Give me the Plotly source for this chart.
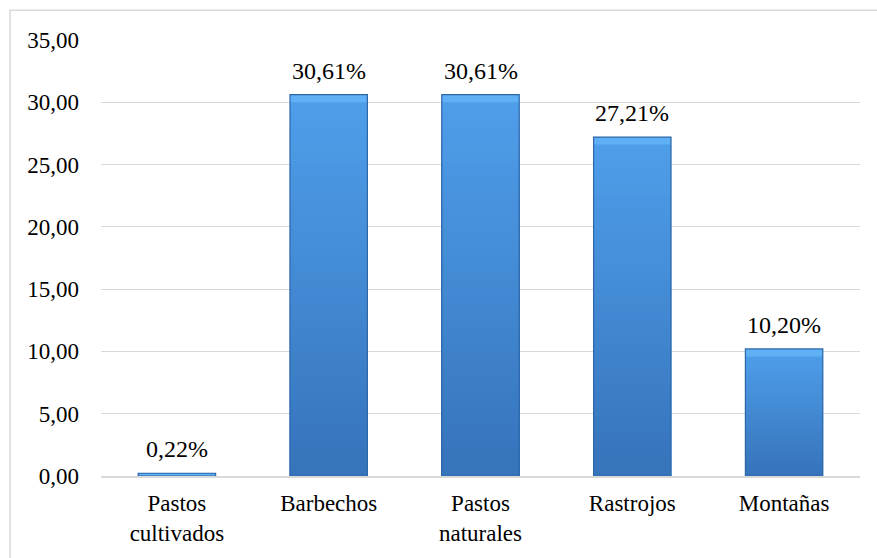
import plotly.graph_objects as go

# Land-use shares
categories = ["Pastos<br>cultivados", "Barbechos", "Pastos<br>naturales", "Rastrojos", "Montañas"]
values = [0.22, 30.61, 30.61, 27.21, 10.20]
y_ticks = [0, 5, 10, 15, 20, 25, 30, 35]
y_tick_labels = ["0,00", "5,00", "10,00", "15,00", "20,00", "25,00", "30,00", "35,00"]

FONT = "'Times New Roman', 'Liberation Serif', serif"
W, H = 877, 558
ML, MR, MT, MB = 101, 17, 40, 80
BEVEL = 0.6  # height of the highlighted top edge, in axis units


def fmt_pct(v):
    return f"{v:.2f}".replace(".", ",") + "%"


def blend(c1, c2, t):
    return "#" + "".join(
        f"{round(a + (b - a) * t):02x}" for a, b in zip(c1, c2)
    )


light = (0x4f, 0x9e, 0xea)
dark = (0x36, 0x74, 0xbb)

fig = go.Figure()

# Vertical shading: stacked overlay layers, each a fraction of the bar height
steps = 40
for k in range(steps):
    frac = 1 - k / steps
    fig.add_trace(go.Bar(
        x=categories,
        y=[v * frac for v in values],
        marker=dict(color=blend(light, dark, k / (steps - 1)),
                    line=dict(width=0)),
        hoverinfo="skip",
        showlegend=False,
    ))

# Highlighted top bevel
bevel = [min(BEVEL, v) for v in values]
fig.add_trace(go.Bar(
    x=categories,
    y=bevel,
    base=[v - b for v, b in zip(values, bevel)],
    marker=dict(color="#5fb0f4", line=dict(width=0)),
    hoverinfo="skip",
    showlegend=False,
))

# Outline on top
fig.add_trace(go.Bar(
    x=categories,
    y=values,
    marker=dict(color="rgba(0,0,0,0)", line=dict(color="#2d67a8", width=1.2)),
    showlegend=False,
))

# Value labels above bars
for c, v in zip(categories, values):
    fig.add_annotation(
        x=c, y=v, text=fmt_pct(v), showarrow=False,
        yanchor="bottom", yshift=9,
        font=dict(family=FONT, size=24, color="#000000"),
    )

# Outer chart border
pw, ph = W - ML - MR, H - MT - MB
fig.add_shape(
    type="rect", xref="paper", yref="paper",
    x0=(10 - ML) / pw, x1=(W + 5 - ML) / pw,
    y0=-(H + 5 - MT - ph) / ph, y1=(H - 10 - MB) / ph,
    line=dict(color="#d9d9d9", width=1.5), layer="below",
)

fig.update_layout(
    width=W, height=H,
    margin=dict(l=ML, r=MR, t=MT, b=MB),
    paper_bgcolor="white", plot_bgcolor="white",
    barmode="overlay", bargap=0.49,
    font=dict(family=FONT, size=22, color="#000000"),
    showlegend=False,
)
fig.update_xaxes(
    showgrid=False, showline=True, linecolor="#d9d9d9", linewidth=1.5,
    ticks="", ticklabelstandoff=6,
    tickfont=dict(family=FONT, size=23),
)
fig.update_yaxes(
    range=[0, 35], tickvals=y_ticks, ticktext=y_tick_labels,
    showgrid=True, gridcolor="#d9d9d9", gridwidth=1.2,
    zeroline=False, showline=False, ticks="",
    ticklabelstandoff=21,
    tickfont=dict(family=FONT, size=23),
)

fig.write_html("out.html")
